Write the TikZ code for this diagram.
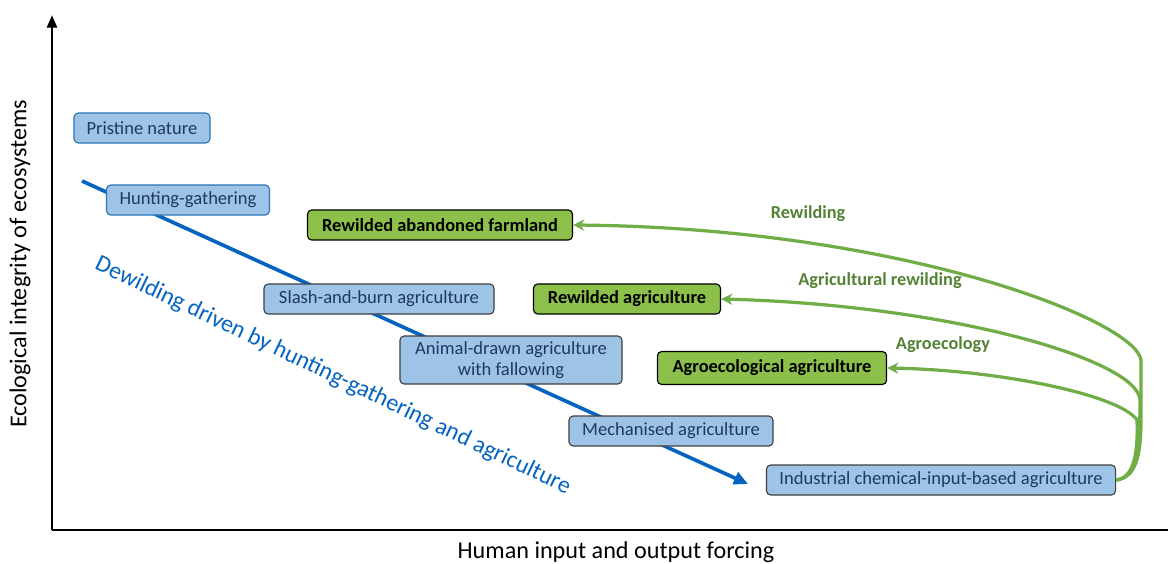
\documentclass[tikz,border=0pt]{standalone}
\usepackage{fontspec}
\setmainfont{Carlito}
\usetikzlibrary{arrows.meta}
\definecolor{boxfill}{HTML}{9DC3E6}
\definecolor{boxtext}{HTML}{1F3864}
\definecolor{boxedge}{HTML}{404040}
\definecolor{natedge}{HTML}{2E75B6}
\definecolor{wildfill}{HTML}{8CC04B}
\definecolor{wildarrow}{HTML}{70AD47}
\definecolor{wildtext}{HTML}{548235}
\definecolor{dewild}{HTML}{0563C1}

\begin{document}
\begin{tikzpicture}[
    x=0.025cm, y=-0.025cm,
    >=Stealth,
    stage/.style={rectangle, rounded corners=3pt, line width=0.8pt, draw=boxedge,
                  fill=boxfill, text=boxtext, align=center, inner sep=2pt,
                  minimum height=0.75cm, font=\fontsize{13.2}{15}\selectfont},
    natural/.style={stage, draw=natedge},
    wild/.style={stage, draw=black, fill=wildfill, text=black,
                 font=\fontsize{13.1}{15}\selectfont\bfseries},
    route/.style={draw=wildarrow, line width=2.3pt, -{Stealth[length=8pt, width=8pt]}},
    routelabel/.style={font=\fontsize{13}{15}\selectfont\bfseries, text=wildtext},
    axislabel/.style={font=\fontsize{17.2}{19}\selectfont, text=black},
]

\useasboundingbox (0,0) rectangle (1168,564);

% axes
\coordinate (O) at (52,530);
\coordinate (ytop) at (52,15);
\coordinate (xend) at (1168,530);
\draw[line width=2pt, -{Triangle[length=9pt, width=7pt]}] (O) -- (ytop);
\draw[line width=2pt] (O) -- (xend);
\node[axislabel, rotate=90] (ylab) at (20,264) {Ecological integrity of ecosystems};
\node[axislabel, anchor=base] (xlab) at (616,558) {Human input and output forcing};

% dewilding trend
\coordinate (dstart) at (82,181);
\coordinate (dend) at (748,484);
\draw[dewild, line width=2.6pt, -{Triangle[length=10pt, width=9pt]}] (dstart) -- (dend);
\node[font=\fontsize{17}{19}\selectfont, text=dewild, rotate=-25.5] (dlab) at (333,376)
    {Dewilding driven by hunting-gathering and agriculture};

% stages of land use
\node[natural, minimum width=3.4cm] (pristine) at (142,128) {Pristine nature};
\node[natural, minimum width=4.075cm] (hunting) at (188,200) {Hunting-gathering};
\node[stage, minimum width=5.75cm] (slash) at (379,299) {Slash-and-burn agriculture};
\node[stage, minimum width=5.55cm, minimum height=1.2cm] (animal) at (511,360)
    {Animal-drawn agriculture\\with fallowing};
\node[stage, minimum width=5.1cm] (mech) at (671,431) {Mechanised agriculture};
\node[stage, minimum width=8.725cm] (industrial) at (941,480)
    {Industrial chemical-input-based agriculture};

% rewilded states
\node[wild, minimum width=6.625cm] (farmland) at (440,225) {Rewilded abandoned farmland};
\node[wild, minimum width=4.675cm] (rewagri) at (627,299) {Rewilded agriculture};
\node[wild, minimum width=5.725cm, minimum height=0.825cm] (agroeco) at (772,368)
    {Agroecological agriculture};

% routes back
\draw[route] (industrial.east) .. controls (1136,478) and (1141,455) .. (1141,420)
    -- (1141,360) .. controls (1135,320) and (900,228) .. (farmland.east);
\draw[route] (industrial.east) .. controls (1136,478) and (1140,450) .. (1140,400)
    .. controls (1138,360) and (950,305) .. (rewagri.east);
\draw[route] (industrial.east) .. controls (1135,478) and (1138,450) .. (1137,420)
    .. controls (1120,395) and (1000,370) .. (agroeco.east);

\node[routelabel] (lrew) at (808,214) {Rewilding};
\node[routelabel] (lagr) at (880,281) {Agricultural rewilding};
\node[routelabel] (leco) at (943,345) {Agroecology};

\end{tikzpicture}
\end{document}
